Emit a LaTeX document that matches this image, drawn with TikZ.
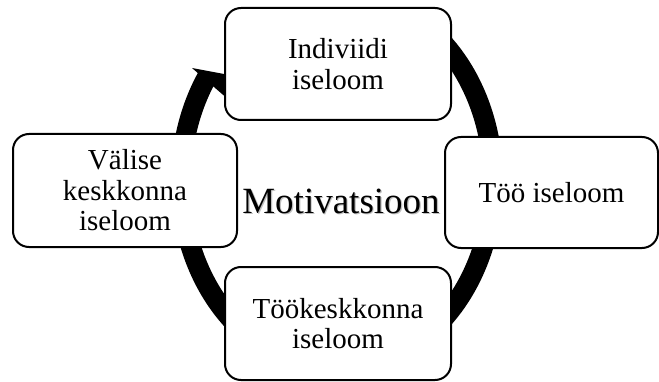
\documentclass[tikz,border=0pt]{standalone}
\usepackage{fontspec}
\setmainfont{Liberation Serif}
\usetikzlibrary{calc}
\begin{document}
\begin{tikzpicture}[x=1pt,y=1pt,
  box/.style={draw=black, line width=2pt, fill=white, rounded corners=16pt,
    align=center, inner sep=0pt,
    font=\fontsize{29}{30.5}\selectfont},
  ring/.style={line width=20pt, draw=black},
  arrowhead/.style={fill=black}]
\useasboundingbox (0,0) rectangle (659,381);
\coordinate (c) at (337,200);
% continuous cycle arrow
\draw[ring] ($(c)+(60:156 and 188)$) arc[start angle=60, end angle=-214, x radius=156, y radius=188];
\coordinate (headout) at (192,313);
\coordinate (headtip) at (240,304);
\coordinate (headin) at (229,281);
\fill[arrowhead] (headout) -- (headtip) -- (headin) -- cycle;
% boxes
\node[box, minimum width=226pt, minimum height=112pt] (top) at (338,317) {Indiviidi\\iseloom};
\node[box, minimum width=224pt, minimum height=113pt] (left) at (125,190.5) {Välise\\keskkonna\\iseloom};
\node[box, minimum width=213pt, minimum height=111pt] (right) at (551.5,188.5) {Töö iseloom};
\node[box, minimum width=226pt, minimum height=113pt] (bottom) at (338,57.5) {Töökeskkonna\\iseloom};
% centre text with soft shadow
\node[anchor=base, inner sep=0pt, text=black!25, font=\fontsize{37}{40}\selectfont] (motshadow) at (342.2,166.8) {Motivatsioon};
\node[anchor=base, inner sep=0pt, font=\fontsize{37}{40}\selectfont] (mot) at (341,168) {Motivatsioon};
\end{tikzpicture}
\end{document}
